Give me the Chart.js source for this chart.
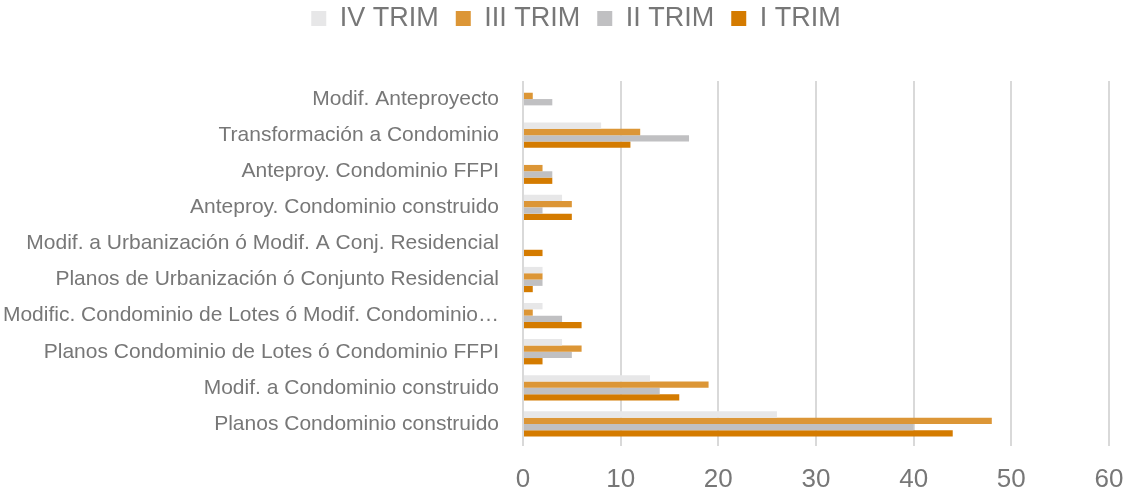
<!DOCTYPE html>
<html>
<head>
<meta charset="utf-8">
<script src="https://cdn.jsdelivr.net/npm/chart.js@4"></script>
<style>
    html, body { margin: 0; padding: 0; background: #fff; }
    #contenedor { width: 1127px; height: 497px; }
</style>
</head>
<body>
<div id="contenedor"><canvas id="grafico-trimestres"></canvas></div>
<script>
// Datos por trámite (de arriba hacia abajo)
const categorias = [
    'Modif. Anteproyecto',
    'Transformación a Condominio',
    'Anteproy. Condominio FFPI',
    'Anteproy. Condominio construido',
    'Modif. a Urbanización ó Modif. A Conj. Residencial',
    'Planos de Urbanización ó Conjunto Residencial',
    'Modific. Condominio de Lotes ó Modif. Condominio…',
    'Planos Condominio de Lotes ó Condominio FFPI',
    'Modif. a Condominio construido',
    'Planos Condominio construido'
];

const trimIV  = [0, 8, 0, 4, 0, 2, 2, 4, 13, 26];
const trimIII = [1, 12, 2, 5, 0, 2, 1, 6, 19, 48];
const trimII  = [3, 17, 3, 2, 0, 2, 4, 5, 14, 40];
const trimI   = [0, 11, 3, 5, 2, 1, 6, 2, 16, 44];

const ticksX = [0, 10, 20, 30, 40, 50, 60];

const fuente = "'Liberation Sans', Arial, sans-serif";
const grisTexto = '#777777';

// alto fijo de la leyenda, y la movemos un poco (arriba y a la derecha)
const ajusteLeyenda = {
    id: 'ajusteLeyenda',
    beforeInit(chart) {
        const fitOriginal = chart.legend.fit;
        chart.legend.fit = function () {
            fitOriginal.call(this);
            this.height = 81;
        };
    },
    afterLayout(chart) {
        chart.legend.top = -12;
        chart.legend.left += 14;
        chart.legend.right += 14;
    }
};

const ctx = document.getElementById('grafico-trimestres').getContext('2d');

new Chart(ctx, {
    type: 'bar',
    data: {
        labels: categorias,
        datasets: [
            { label: 'IV TRIM', data: trimIV, backgroundColor: '#e7e7e8' },
            { label: 'III TRIM', data: trimIII, backgroundColor: '#dc9636' },
            { label: 'II TRIM', data: trimII, backgroundColor: '#c0c0c2' },
            { label: 'I TRIM', data: trimI, backgroundColor: '#d47b00' }
        ]
    },
    options: {
        indexAxis: 'y',
        responsive: true,
        maintainAspectRatio: false,
        animation: false,
        layout: { padding: { top: 0, right: 3, bottom: 0, left: 0 } },
        datasets: {
            bar: { categoryPercentage: 0.7, barPercentage: 1.0 }
        },
        plugins: {
            legend: {
                position: 'top',
                labels: {
                    font: { family: fuente, size: 27 },
                    color: grisTexto,
                    boxWidth: 15,
                    boxHeight: 15,
                    padding: 17
                }
            },
            tooltip: { enabled: false }
        },
        scales: {
            x: {
                min: 0,
                max: 60,
                afterBuildTicks: (eje) => { eje.ticks = ticksX.map(v => ({ value: v })); },
                afterFit: (eje) => { eje.height = 55; eje.paddingRight = 18; },
                grid: { color: '#d9d9d9', lineWidth: 2, tickLength: 4, drawTicks: true },
                border: { display: false },
                ticks: {
                    font: { family: fuente, size: 26 },
                    color: grisTexto,
                    padding: 18
                }
            },
            y: {
                afterFit: (eje) => { eje.width = 523; },
                grid: { display: false },
                border: { display: false },
                ticks: {
                    font: { family: fuente, size: 21 },
                    color: grisTexto,
                    padding: 16,
                    autoSkip: false
                }
            }
        }
    },
    plugins: [ajusteLeyenda]
});
</script>
</body>
</html>
